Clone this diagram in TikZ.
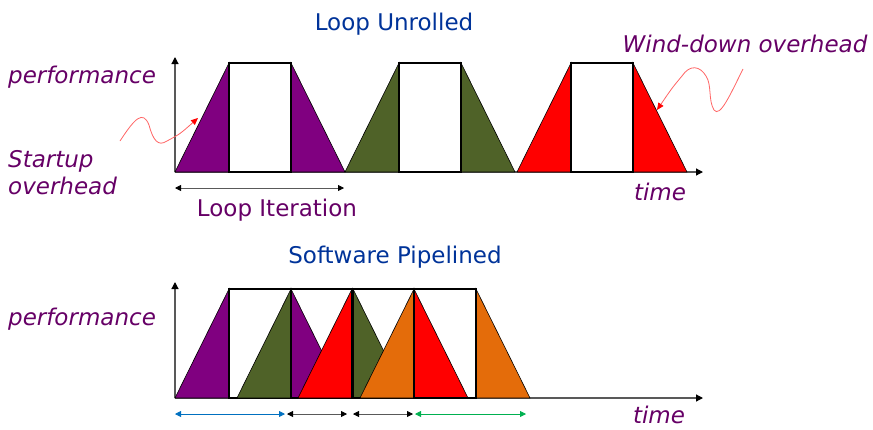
\documentclass[tikz,border=0pt]{standalone}
\usepackage{fontspec}
\setmainfont{DejaVu Sans}[ItalicFont={DejaVu Sans Oblique}]
\usepackage{tikz}
\usetikzlibrary{calc}
\usetikzlibrary{arrows.meta}

\definecolor{stagePurple}{RGB}{128,0,128}
\definecolor{stageGreen}{RGB}{79,98,40}
\definecolor{stageRed}{RGB}{255,0,0}
\definecolor{stageOrange}{RGB}{228,108,10}
\definecolor{labelPurple}{RGB}{102,0,102}
\definecolor{titleBlue}{RGB}{0,51,153}
\definecolor{axisGray}{RGB}{89,89,89}
\definecolor{noteRed}{RGB}{255,100,100}
\definecolor{spanBlue}{RGB}{0,112,192}
\definecolor{spanGreen}{RGB}{0,176,80}

\begin{document}
\begin{tikzpicture} [x = 1pt, y = -1pt]
            % Set primary styles
            \tikzset{
                titleText/.style={
                        text = titleBlue,
                        font = \fontsize{23}{27}\selectfont,
                        inner sep = 0pt,
                        anchor = base
                    }
            }
            \tikzset{
                labelText/.style={
                        text = labelPurple,
                        font = \fontsize{23}{27}\selectfont,
                        inner sep = 0pt
                    }
            }
            \tikzset{
                noteText/.style={
                        labelText,
                        font = \fontsize{23}{27}\selectfont\itshape
                    }
            }
            \tikzset{
                axisLine/.style={
                        draw = axisGray,
                        line width = 1.2pt,
                        -{Triangle[length = 7pt, width = 7pt, color = black]}
                    }
            }
            \tikzset{
                spanArrow/.style={
                        draw = axisGray,
                        line width = 0.8pt,
                        {Triangle[length = 6pt, width = 6pt, color = black]}-{Triangle[length = 6pt, width = 6pt, color = black]}
                    }
            }
            \tikzset{
                noteArrow/.style={
                        draw = noteRed,
                        line width = 0.8pt,
                        -{Triangle[length = 7pt, width = 6pt, color = red]}
                    }
            }
            \tikzset{
                rampFill/.style={
                        draw = black,
                        line width = 0.6pt
                    }
            }
            \tikzset{
                stageBox/.style={
                        draw = black,
                        line width = 1.5pt
                    }
            }
            \useasboundingbox (0,0) rectangle (873,429);
            % Axes
            \coordinate (topOrigin) at (175,172);
            \coordinate (topYEnd) at (175,57);
            \coordinate (topXEnd) at (703,172);
            \coordinate (botOrigin) at (175,398);
            \coordinate (botYEnd) at (175,282);
            \coordinate (botXEnd) at (703,398);
            \draw[axisLine] (topOrigin) -- (topYEnd);
            \draw[axisLine] (topOrigin) -- (topXEnd);
            \draw[axisLine] (botOrigin) -- (botYEnd);
            \draw[axisLine] (botOrigin) -- (botXEnd);
            % Loop unrolled iterations
            \foreach \x/\c in {175/stagePurple, 345/stageGreen, 517/stageRed}{
                \filldraw[rampFill, fill = \c] (\x,172) -- (\x+54,63) -- (\x+54,172) -- cycle;
                \filldraw[rampFill, fill = \c] (\x+116,63) -- (\x+170,172) -- (\x+116,172) -- cycle;
                \draw[stageBox] (\x+54,63) rectangle (\x+116,172);
            }
            % Software pipelined iterations
            \foreach \x/\c in {175/stagePurple, 237/stageGreen, 298/stageRed, 360/stageOrange}{
                \filldraw[rampFill, fill = \c] (\x,398) -- (\x+54,289) -- (\x+54,398) -- cycle;
                \filldraw[rampFill, fill = \c] (\x+116,289) -- (\x+170,398) -- (\x+116,398) -- cycle;
                \draw[stageBox] (\x+54,289) rectangle (\x+116,398);
            }
            % Placing nodes
            \node[titleText](unrolled) at (394,30){Loop Unrolled};
            \node[titleText](pipelined) at (395,263){Software Pipelined};
            \node[noteText, anchor = base west](perfTop) at (8,83){performance};
            \node[noteText, anchor = base west](perfBottom) at (8,325){performance};
            \node[noteText, anchor = base west](startup) at (8,167){Startup};
            \node[noteText, anchor = base west](overhead) at ([yshift = -27pt]startup.base west){overhead};
            \node[noteText, anchor = base](windDown) at (745,52){Wind-down overhead};
            \node[noteText, anchor = base](timeTop) at (660,200){time};
            \node[noteText, anchor = base](timeBottom) at (659,423){time};
            \node[labelText, anchor = base](iteration) at (277,216){Loop Iteration};
            % Placing arrows
            \coordinate (iterStart) at (175,188);
            \coordinate (iterEnd) at (344,188);
            \draw[spanArrow] (iterStart) -- (iterEnd);
            \coordinate (prologStart) at (175,414);
            \coordinate (prologEnd) at (285,414);
            \coordinate (kernelAStart) at (287,414);
            \coordinate (kernelAEnd) at (347,414);
            \coordinate (kernelBStart) at (353,414);
            \coordinate (kernelBEnd) at (413,414);
            \coordinate (epilogStart) at (415,414);
            \coordinate (epilogEnd) at (526,414);
            \draw[spanArrow, draw = spanBlue, {Triangle[length = 6pt, width = 6pt, color = spanBlue]}-{Triangle[length = 6pt, width = 6pt, color = spanBlue]}] (prologStart) -- (prologEnd);
            \draw[spanArrow] (kernelAStart) -- (kernelAEnd);
            \draw[spanArrow] (kernelBStart) -- (kernelBEnd);
            \draw[spanArrow, draw = spanGreen, {Triangle[length = 6pt, width = 6pt, color = spanGreen]}-{Triangle[length = 6pt, width = 6pt, color = spanGreen]}] (epilogStart) -- (epilogEnd);
            \coordinate (startupTail) at (120,141);
            \coordinate (startupTip) at (198,118);
            \draw[noteArrow] (startupTail) .. controls (135,118) and (143,110) .. (149,125)
                .. controls (153,140) and (158,147) .. (167,141)
                .. controls (180,134) .. (startupTip);
            \coordinate (windTail) at (743,69);
            \coordinate (windTip) at (657,110);
            \draw[noteArrow] (windTail) .. controls (730,95) and (720,118) .. (714,110)
                .. controls (708,100) and (712,85) .. (706,76)
                .. controls (700,66) and (690,64) .. (682,76)
                .. controls (672,88) .. (windTip);
        \end{tikzpicture}
\end{document}
